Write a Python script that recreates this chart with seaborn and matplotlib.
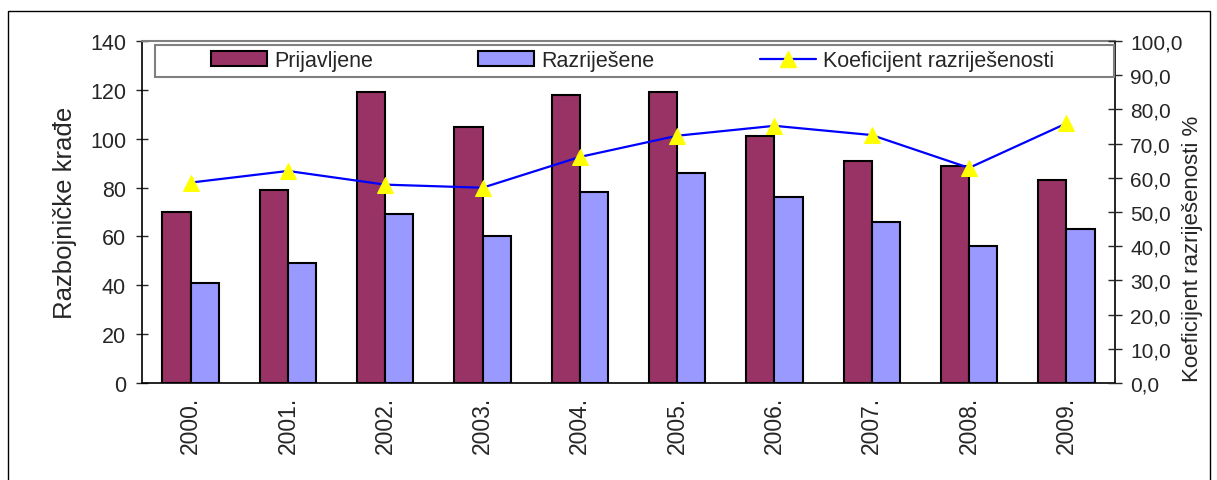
import numpy as np
import pandas as pd
import matplotlib
matplotlib.use("Agg")
import matplotlib.pyplot as plt
from matplotlib.patches import Patch, Rectangle
from matplotlib.lines import Line2D
from matplotlib.ticker import FixedLocator, FuncFormatter
import seaborn as sns

# data
years = ["2000.", "2001.", "2002.", "2003.", "2004.", "2005.", "2006.", "2007.", "2008.", "2009."]
prijavljene = [70, 79, 119, 105, 118, 119, 101, 91, 89, 83]
razrijesene = [41, 49, 69, 60, 78, 86, 76, 66, 56, 63]
koeficijent = [58.6, 62.0, 58.0, 57.1, 66.1, 72.3, 75.2, 72.5, 62.9, 75.9]

series_names = ["Prijavljene", "Razriješene"]
colors = {"Prijavljene": "#993366", "Razriješene": "#9999FF"}

sns.set_style("white")
plt.rcParams["font.family"] = ["Liberation Sans", "DejaVu Sans"]

df = pd.DataFrame({
    "Godina": years * 2,
    "Broj": prijavljene + razrijesene,
    "Vrsta": [series_names[0]] * len(years) + [series_names[1]] * len(years),
})

fig = plt.figure(figsize=(12.17, 4.81), dpi=100)
ax = fig.add_axes([142 / 1217, 1 - 384 / 481, (1115 - 142) / 1217, (384 - 42) / 481])

sns.barplot(data=df, x="Godina", y="Broj", hue="Vrsta", palette=colors,
            width=0.58, gap=0, saturation=1, edgecolor="black", linewidth=1.5,
            legend=False, ax=ax)

ax.set_xlim(-0.5, len(years) - 0.5)
ax.set_ylim(0, 140)
ax.set_yticks(range(0, 141, 20))
ax.tick_params(axis="y", direction="inout", length=9, width=1, labelsize=15.5, pad=7)
ax.tick_params(axis="x", which="major", length=0, labelsize=16.5, pad=9, labelrotation=90)
ax.xaxis.set_minor_locator(FixedLocator(np.arange(-0.5, len(years), 1.0)))
ax.tick_params(axis="x", which="minor", direction="out", length=4.5, width=1)
ax.set_xlabel("")
ax.set_ylabel("Razbojničke krađe", fontsize=18.5, labelpad=9)

for side in ["left", "bottom", "right"]:
    ax.spines[side].set_color("black")
    ax.spines[side].set_linewidth(1.2)
ax.spines["top"].set_color("#808080")
ax.spines["top"].set_linewidth(1.5)

# coefficient line on the right axis
ax2 = ax.twinx()
sns.lineplot(x=np.arange(len(years)), y=koeficijent, ax=ax2, color="#0000FF",
             linewidth=1.6, marker="^", markersize=11, markerfacecolor="#FFFF00",
             markeredgecolor="#FFFF00", legend=False)
ax2.set_ylim(0, 100)
ax2.set_yticks(np.arange(0, 101, 10))
ax2.yaxis.set_major_formatter(FuncFormatter(lambda v, p: f"{v:.1f}".replace(".", ",")))
ax2.tick_params(axis="y", direction="inout", length=10, width=1, labelsize=15, pad=6)
ax2.set_ylabel("Koeficijent razriješenosti %", fontsize=16)
ax2.yaxis.set_label_coords((1182 - 142) / 973, (384 - 249) / 342)
for s in ax2.spines.values():
    s.set_visible(False)

# legend box across the top of the plot
ax2.add_patch(Rectangle(((155 - 142) / 973, (384 - 77.7) / 342), (1114 - 155) / 973, 31.7 / 342,
                        transform=ax2.transAxes, facecolor="white", edgecolor="#808080",
                        linewidth=1.5, zorder=5, clip_on=False))
handles = [
    Patch(facecolor=colors["Prijavljene"], edgecolor="black", linewidth=1.5, label="Prijavljene"),
    Patch(facecolor=colors["Razriješene"], edgecolor="black", linewidth=1.5, label="Razriješene"),
    Line2D([], [], color="#0000FF", linewidth=1.6, marker="^", markersize=11,
           markerfacecolor="#FFFF00", markeredgecolor="#FFFF00", label="Koeficijent razriješenosti"),
]
leg = ax2.legend(handles=handles, ncol=3, loc="center left",
                 bbox_to_anchor=((211 - 142) / 973, (384 - 61.9) / 342),
                 frameon=False, fontsize=15.5, borderpad=0, borderaxespad=0,
                 handlelength=2.6, handleheight=0.7, handletextpad=0.33, columnspacing=4.9)
leg.set_zorder(6)

# outer chart border
fig.add_artist(Rectangle((8 / 1217, -0.05), (1210 - 8) / 1217, 1.05 - 12 / 481,
                         transform=fig.transFigure, fill=False, edgecolor="black",
                         linewidth=1.0, clip_on=False))

fig.savefig("out.png", dpi=100)
